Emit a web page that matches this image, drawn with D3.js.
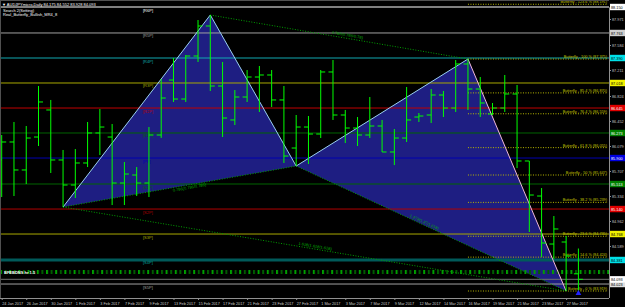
<!DOCTYPE html>
<html>
<head>
<meta charset="utf-8">
<script src="https://cdn.jsdelivr.net/npm/d3@7"></script>
<style>
    html, body { margin: 0; padding: 0; background: #000; overflow: hidden; }
    svg { display: block; font-family: "Liberation Sans", Arial, sans-serif; }
</style>
</head>
<body>
<svg id="chart" width="625" height="307"></svg>
<script>
// daily bars, AUDJPY
const dates = ["24 Jan 2017","25 Jan 2017","26 Jan 2017","27 Jan 2017","30 Jan 2017","31 Jan 2017",
    "1 Feb 2017","2 Feb 2017","3 Feb 2017","6 Feb 2017","7 Feb 2017","8 Feb 2017","9 Feb 2017","10 Feb 2017",
    "13 Feb 2017","14 Feb 2017","15 Feb 2017","16 Feb 2017","17 Feb 2017","20 Feb 2017","21 Feb 2017",
    "22 Feb 2017","23 Feb 2017","24 Feb 2017","27 Feb 2017","28 Feb 2017","1 Mar 2017","2 Mar 2017",
    "3 Mar 2017","6 Mar 2017","7 Mar 2017","8 Mar 2017","9 Mar 2017","10 Mar 2017","12 Mar 2017",
    "13 Mar 2017","14 Mar 2017","15 Mar 2017","16 Mar 2017","17 Mar 2017","19 Mar 2017","20 Mar 2017",
    "21 Mar 2017","22 Mar 2017","23 Mar 2017","24 Mar 2017","27 Mar 2017","28 Mar 2017"];
const opens  = [85.871,86.139,85.722,86.213,86.616,85.871,85.498,85.826,86.273,86.213,85.528,85.647,
    85.528,86.243,87.062,86.779,87.420,87.867,86.973,86.467,86.809,87.107,87.137,86.765,86.049,86.362,
    86.258,87.182,86.541,86.347,86.243,86.377,85.990,86.198,86.511,86.541,86.839,86.645,87.301,86.928,
    86.556,86.645,86.854,85.856,85.334,84.619,84.649,84.175];
const highs  = [86.243,86.437,86.377,86.973,86.765,86.020,86.034,86.437,86.630,86.407,85.841,85.766,
    86.362,87.077,87.390,87.435,87.956,88.031,87.331,86.913,87.211,87.271,87.211,86.973,86.541,86.526,
    87.211,87.360,86.616,86.511,86.809,86.467,86.332,86.958,86.571,86.928,86.899,87.360,87.375,87.107,
    86.720,87.137,86.988,85.856,85.453,85.036,84.738,84.552];
const lows   = [85.319,85.334,85.513,86.079,85.677,85.170,85.304,85.766,85.945,85.200,85.200,85.334,
    85.319,86.200,86.735,86.735,87.331,86.899,86.213,86.392,86.735,86.586,86.660,85.826,85.781,85.811,
    86.198,86.467,86.124,86.079,86.198,85.990,85.795,86.139,86.437,86.422,86.511,86.586,86.616,86.511,
    86.541,86.586,85.751,84.798,84.425,84.396,83.919,83.928];
const closes = [86.139,85.722,86.198,86.735,85.871,85.498,85.826,86.273,86.362,85.528,85.662,85.528,
    86.243,86.794,86.779,87.420,87.867,86.973,86.496,86.809,87.107,87.137,86.765,85.930,86.362,86.258,
    87.182,86.541,86.347,86.243,86.377,85.990,86.198,86.467,86.526,86.839,86.645,87.301,86.928,86.720,
    86.645,86.854,85.856,85.349,84.634,84.843,84.440,84.093];

// butterfly points X A B C D (bar index / price)
const patternIdx   = [5, 17, 24, 38, 46];
const patternPrice = [85.170, 88.031, 85.781, 87.375, 83.919];

// pivot levels
const pivotNames  = ["[R6P]","[R5P]","[R4P]","[R3P]","[R2P]","[R1P]","[PP]","[S1P]","[S2P]","[S3P]","[S4P]","[S5P]"];
const pivotPrices = [88.150,87.763,87.390,87.018,86.645,86.273,85.900,85.513,85.140,84.768,84.381,84.023];
const pivotColors = ["#ffffff","#a0a0a0","#10a8b0","#a8a800","#c00000","#006400","#0000b0","#006400","#b00000","#a8a800","#005a5a","#a0a0a0"];
const pivotWidths = [1,1,1,1,1,1,1,1,1,1,3,1];

// butterfly projection ratios (of CD)
const bflyRatios = [1.236, 1.0, 0.854, 0.764, 0.618, 0.5, 0.382, 0.236, 0.146, 0];

// price axis ticks
const priceTicks = [87.971, 87.584, 87.211, 86.824, 86.452, 86.079, 85.707, 85.334, 84.962, 84.589, 83.785];

const svg = d3.select("#chart");
const plotRight = 609;

const x = d3.scaleLinear().domain([0, 47]).range([1.7, 578.4]);
const y = d3.scaleLinear().domain([83.785, 88.150]).range([300, 7]);

svg.append("rect").attr("width", 625).attr("height", 307).attr("fill", "#000");

const P = patternIdx.map((d, i) => [x(d), y(patternPrice[i])]);

// triangles XAB and BCD
svg.selectAll("polygon.tri")
    .data([[P[0], P[1], P[2]], [P[2], P[3], P[4]]])
    .join("polygon")
    .attr("points", d => d.map(p => p.join(",")).join(" "))
    .attr("fill", "#1e1e82");

// pivot lines
pivotPrices.forEach((p, i) => {
    svg.append("line")
        .attr("x1", 0).attr("x2", plotRight)
        .attr("y1", y(p)).attr("y2", y(p))
        .attr("stroke", pivotColors[i])
        .attr("stroke-width", pivotWidths[i]);
    svg.append("text")
        .attr("x", 143).attr("y", y(p) + 4.5)
        .attr("font-size", 4)
        .attr("fill", pivotColors[i] == "#005a5a" ? "#00a0a0" : pivotColors[i])
        .text(pivotNames[i]);
});

// bid line
const last = closes.length - 1;
svg.append("line")
    .attr("x1", 0).attr("x2", plotRight)
    .attr("y1", y(closes[last])).attr("y2", y(closes[last]))
    .attr("stroke", "#707070").attr("stroke-width", 1);

// green dash row (indicator strip)
const defs = svg.append("defs");
const pat = defs.append("pattern").attr("id", "dash").attr("patternUnits", "userSpaceOnUse")
    .attr("width", 9.2).attr("height", 4);
pat.append("rect").attr("x", 0).attr("width", 2).attr("height", 4).attr("fill", "#00a000");
pat.append("rect").attr("x", 4.6).attr("width", 2).attr("height", 4).attr("fill", "#005c00");
svg.append("rect").attr("x", 0).attr("y", 270).attr("width", plotRight).attr("height", 4)
    .attr("fill", "url(#dash)");
svg.append("text").attr("x", 4).attr("y", 273.5).attr("font-size", 4).attr("fill", "#fff")
    .attr("font-weight", "bold").text("BFEBDNS hr 1.5");

// butterfly projection levels
const cPrice = patternPrice[3], dPrice = patternPrice[4];
bflyRatios.forEach(r => {
    const p = dPrice + r * (cPrice - dPrice);
    svg.append("line")
        .attr("x1", P[3][0]).attr("x2", plotRight - 1)
        .attr("y1", y(p)).attr("y2", y(p))
        .attr("stroke", "#b8b800").attr("stroke-width", 1)
        .attr("stroke-dasharray", "1,1.5");
    svg.append("text")
        .attr("x", plotRight - 2).attr("y", y(p) - 1)
        .attr("text-anchor", "end")
        .attr("font-size", 3.8)
        .attr("fill", "#c8c800")
        .text("Butterfly - " + (r * 100).toFixed(1).replace(".0", "") + " % (" + p.toFixed(3) + ")");
});

// dotted ratio lines
const ratioLines = [
    { a: 0, b: 2, t: 0.54, label: "0.786(0.786/0.786)", dy: 4 },
    { a: 1, b: 3, t: 0.53, label: "0.786(0.786/0.78)", dy: -2 },
    { a: 2, b: 4, t: 0.47, label: "1.272(1.27/1.618)", dy: -1.5 },
    { a: 0, b: 4, t: 0.5, label: "1.618(1.618/1.618)", dy: -1.5 }
];
ratioLines.forEach(l => {
    const p1 = P[l.a], p2 = P[l.b];
    svg.append("line")
        .attr("x1", p1[0]).attr("y1", p1[1]).attr("x2", p2[0]).attr("y2", p2[1])
        .attr("stroke", "#00a000").attr("stroke-width", 1).attr("stroke-dasharray", "1,1.6");
    const mx = p1[0] + (p2[0] - p1[0]) * l.t, my = p1[1] + (p2[1] - p1[1]) * l.t;
    const ang = Math.atan2(p2[1] - p1[1], p2[0] - p1[0]) * 180 / Math.PI;
    svg.append("text")
        .attr("transform", `translate(${mx},${my}) rotate(${ang})`)
        .attr("y", l.dy)
        .attr("text-anchor", "middle")
        .attr("font-size", 4)
        .attr("fill", "#00b000")
        .text(l.label);
});

// pattern edges
[[0, 1], [1, 2], [2, 3]].forEach(e => {
    svg.append("line")
        .attr("x1", P[e[0]][0]).attr("y1", P[e[0]][1]).attr("x2", P[e[1]][0]).attr("y2", P[e[1]][1])
        .attr("stroke", "#9ad0f0").attr("stroke-width", 1);
});
svg.append("line")
    .attr("x1", P[3][0]).attr("y1", P[3][1]).attr("x2", P[4][0]).attr("y2", P[4][1])
    .attr("stroke", "#f0b8d8").attr("stroke-width", 1);

// OHLC bars
const bars = svg.append("g").attr("stroke", "#00ff00").attr("stroke-width", 1);
dates.forEach((d, i) => {
    bars.append("line").attr("x1", x(i)).attr("x2", x(i)).attr("y1", y(highs[i])).attr("y2", y(lows[i]));
    bars.append("line").attr("x1", x(i) - 4.5).attr("x2", x(i)).attr("y1", y(opens[i])).attr("y2", y(opens[i]));
    bars.append("line").attr("x1", x(i)).attr("x2", x(i) + 4.5).attr("y1", y(closes[i])).attr("y2", y(closes[i]));
});

// D completion arrow
svg.append("path")
    .attr("d", d3.symbol(d3.symbolTriangle, 14)())
    .attr("transform", `translate(${x(last)},${y(lows[last]) + 3})`)
    .attr("fill", "#2020ff");

// header texts
svg.append("line").attr("x1", 0).attr("x2", 625).attr("y1", 0.5).attr("y2", 0.5).attr("stroke", "#505050");
svg.append("line").attr("x1", 0.5).attr("x2", 0.5).attr("y1", 0).attr("y2", 298).attr("stroke", "#505050");
svg.append("text").attr("x", 2).attr("y", 5.5).attr("font-size", 4).attr("fill", "#fff")
    .text("\u25BC AUDJPYmicro,Daily  84.175 84.552 83.928 84.093");
svg.append("text").attr("x", 3).attr("y", 11.5).attr("font-size", 4).attr("fill", "#fff").text("Search 2(Setting)");
svg.append("text").attr("x", 3).attr("y", 16).attr("font-size", 4).attr("fill", "#fff").text("Real_Butterfly_Bullish_MR4_8");

// price axis
svg.append("rect").attr("x", plotRight).attr("y", 0).attr("width", 16).attr("height", 307).attr("fill", "#000");
const yAxis = svg.append("g")
    .attr("transform", `translate(${plotRight},0)`)
    .call(d3.axisRight(y).tickValues(priceTicks).tickFormat(d3.format(".3f")).tickSize(2));
yAxis.select(".domain").attr("stroke", "#909090");
yAxis.selectAll("line").attr("stroke", "#909090");
yAxis.selectAll("text").attr("fill", "#c0c0c0").attr("font-size", 3.8).attr("x", 3)
    .attr("font-family", "Liberation Sans, Arial");

// value boxes on axis
const boxPrices = pivotPrices.concat([closes[last]]);
const boxColors = ["#ffffff","#d0d0d0","#00e0e8","#f0f000","#e00000","#008000","#0000e0","#008000","#e00000","#f0f000","#00e0e8","#e0e0e0","#ffffff"];
boxPrices.forEach((p, i) => {
    const dark = ["#e00000", "#008000", "#0000e0"].includes(boxColors[i]);
    svg.append("rect").attr("x", plotRight + 1).attr("y", y(p) - 3.2).attr("width", 15).attr("height", 6.4)
        .attr("fill", boxColors[i]);
    svg.append("text").attr("x", plotRight + 2).attr("y", y(p) + 1.6).attr("font-size", 3.8)
        .attr("fill", dark ? "#ffffff" : "#000000").text(p.toFixed(3));
});

// time axis
svg.append("rect").attr("x", 0).attr("y", 298).attr("width", 625).attr("height", 9).attr("fill", "#000");
const xAxis = svg.append("g")
    .attr("transform", "translate(0,298)")
    .call(d3.axisBottom(x)
        .tickValues(d3.range(0, dates.length, 2))
        .tickFormat(i => dates[i])
        .tickSize(2)
        .tickSizeOuter(0));
xAxis.select(".domain").attr("stroke", "#909090").attr("d", `M0,0.5H${plotRight}`);
xAxis.selectAll("line").attr("stroke", "#909090");
xAxis.selectAll("text")
    .attr("fill", "#c8c8c8")
    .attr("font-size", 3.8)
    .attr("font-family", "Liberation Sans, Arial")
    .attr("text-anchor", "start")
    .attr("y", 4)
    .attr("dy", "0.71em");
</script>
</body>
</html>
